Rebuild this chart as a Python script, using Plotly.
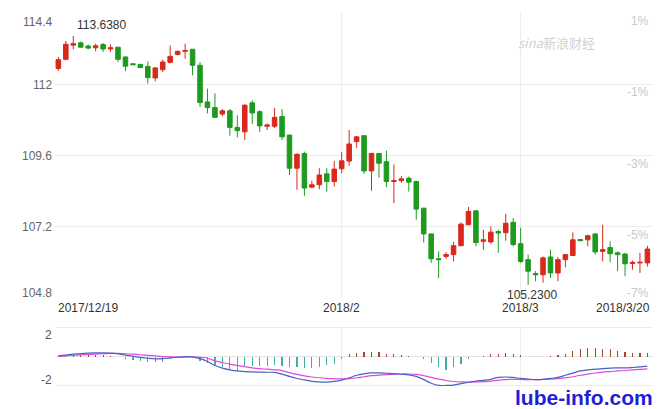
import plotly.graph_objects as go

# ---------------- data ----------------
opens = [112.54, 112.85, 113.33, 113.41, 113.30, 113.24, 113.35, 113.20, 113.26, 112.93,
         112.70, 112.68, 112.61, 112.22, 112.50, 112.75, 113.01, 113.12, 113.19, 112.65,
         111.41, 111.22, 111.00, 111.11, 110.55, 110.40, 111.38, 111.08, 110.59, 110.59,
         110.92, 110.29, 109.17, 109.67, 108.53, 108.61, 108.98, 108.72, 109.15, 109.41,
         110.07, 110.27, 109.08, 109.67, 109.39, 108.72, 108.75, 108.83, 108.72, 107.82,
         106.95, 106.11, 106.19, 106.25, 106.55, 107.26, 107.73, 106.70, 106.68, 107.03,
         106.99, 107.34, 106.62, 106.08, 105.61, 105.57, 106.17, 105.63, 106.08, 106.22,
         106.76, 106.75, 106.95, 106.36, 106.49, 106.31, 106.27, 105.95, 105.97, 105.97]
highs = [112.93, 113.47, 113.638, 113.45, 113.35, 113.38, 113.40, 113.36, 113.27, 112.95,
         112.71, 112.69, 112.78, 112.59, 112.84, 113.32, 113.15, 113.38, 113.20, 112.76,
         111.86, 111.70, 111.17, 111.17, 110.96, 111.33, 111.47, 111.13, 110.68, 111.21,
         111.17, 110.30, 109.67, 109.73, 108.75, 109.17, 109.17, 109.42, 109.71, 110.46,
         110.26, 110.28, 109.69, 109.68, 109.76, 109.30, 108.91, 108.89, 108.74, 107.83,
         106.96, 106.36, 106.33, 106.68, 107.34, 107.86, 107.74, 107.09, 107.20, 107.09,
         107.63, 107.49, 107.16, 106.25, 105.69, 106.19, 106.42, 106.17, 106.27, 107.00,
         106.77, 106.92, 106.96, 107.26, 106.70, 106.36, 106.31, 106.05, 106.31, 106.55]
lows = [112.46, 112.82, 113.19, 113.24, 113.19, 113.12, 113.10, 113.10, 112.76, 112.45,
        112.66, 112.56, 112.03, 112.11, 112.42, 112.71, 112.99, 112.87, 112.31, 111.24,
        111.02, 110.88, 110.93, 110.27, 110.21, 110.12, 110.66, 110.40, 110.46, 110.52,
        110.12, 108.94, 108.44, 108.24, 108.50, 108.46, 108.38, 108.55, 109.00, 109.25,
        109.86, 108.98, 108.41, 108.85, 108.53, 107.99, 108.68, 108.38, 107.43, 106.66,
        105.97, 105.46, 106.10, 106.02, 106.54, 107.24, 106.53, 106.42, 106.62, 106.31,
        106.72, 106.53, 105.97, 105.23, 105.35, 105.30, 105.46, 105.35, 105.82, 106.21,
        106.71, 106.53, 106.25, 106.02, 105.99, 105.69, 105.52, 105.74, 105.63, 105.85]
closes = [112.84, 113.36, 113.38, 113.26, 113.23, 113.31, 113.20, 113.24, 112.85, 112.62,
          112.67, 112.57, 112.23, 112.56, 112.76, 112.95, 113.12, 113.15, 112.65, 111.39,
          111.22, 110.89, 111.11, 110.55, 110.44, 111.30, 111.04, 110.60, 110.63, 110.89,
          110.23, 109.17, 109.64, 108.50, 108.61, 108.94, 108.72, 109.14, 109.42, 109.99,
          110.23, 109.08, 109.67, 109.34, 108.72, 108.75, 108.81, 108.70, 107.79, 106.95,
          106.11, 106.08, 106.25, 106.55, 107.28, 107.71, 106.66, 106.75, 107.01, 106.98,
          107.31, 106.59, 106.02, 105.69, 105.57, 106.14, 105.63, 106.08, 106.25, 106.75,
          106.72, 106.89, 106.34, 106.42, 106.28, 106.25, 105.94, 105.99, 105.99, 106.44]

dif = [0.05, 0.10, 0.16, 0.20, 0.23, 0.25, 0.25, 0.23, 0.18, 0.10,
       0.02, -0.06, -0.12, -0.16, -0.15, -0.10, -0.05, -0.01, -0.02, -0.15,
       -0.35, -0.62, -0.80, -0.92, -1.00, -1.04, -1.07, -1.08, -1.09, -1.10,
       -1.22, -1.38, -1.52, -1.62, -1.72, -1.76, -1.77, -1.72, -1.63, -1.48,
       -1.30, -1.20, -1.14, -1.13, -1.16, -1.19, -1.23, -1.27, -1.38, -1.60,
       -1.85, -2.00, -2.00, -1.98, -1.88, -1.78, -1.70, -1.65, -1.58, -1.45,
       -1.42, -1.45, -1.52, -1.56, -1.60, -1.58, -1.52, -1.45, -1.30, -1.15,
       -1.00, -0.93, -0.88, -0.84, -0.80, -0.79, -0.79, -0.76, -0.72, -0.66]
dea = [0.03, 0.05, 0.08, 0.11, 0.14, 0.17, 0.19, 0.21, 0.21, 0.19,
       0.16, 0.12, 0.08, 0.04, 0.00, -0.03, -0.04, -0.04, -0.03, -0.06,
       -0.12, -0.30, -0.42, -0.53, -0.62, -0.71, -0.79, -0.84, -0.88, -0.92,
       -0.98, -1.12, -1.24, -1.34, -1.42, -1.47, -1.52, -1.54, -1.55, -1.53,
       -1.47, -1.40, -1.33, -1.29, -1.25, -1.23, -1.21, -1.21, -1.24, -1.32,
       -1.45, -1.57, -1.66, -1.73, -1.76, -1.77, -1.76, -1.74, -1.71, -1.64,
       -1.60, -1.58, -1.59, -1.60, -1.61, -1.59, -1.57, -1.53, -1.47, -1.40,
       -1.30, -1.22, -1.14, -1.08, -1.04, -1.00, -0.97, -0.93, -0.89, -0.85]
hist = [0.04, 0.06, 0.08, 0.09, 0.10, 0.09, 0.08, 0.06,
        0.0,
        -0.2, -0.25, -0.3, -0.4, -0.4, -0.35,
        -0.15, -0.05, 0.02, -0.05,
        -0.3, -0.45, -0.6, -0.75, -0.9, -1.0,
        -0.7, -0.68, -0.68, -0.64, -0.6, -0.64, -0.75, -0.75, -0.8, -0.8, -0.75, -0.6, -0.5, -0.15,
        0.15, 0.27, 0.32, 0.34, 0.32, 0.16, 0.14, 0.1, 0.05, -0.05,
        -0.2, -0.45, -0.75, -0.9, -0.75, -0.5, -0.2, -0.05, 0.02,
        0.15, 0.2, 0.27, 0.2, 0.1, 0.0, -0.02, 0.0, 0.05,
        0.1, 0.2, 0.38, 0.55, 0.6, 0.6, 0.55, 0.5, 0.4, 0.3, 0.25, 0.22, 0.22]

price_ticks = [104.8, 107.2, 109.6, 112.0, 114.4]
price_tick_text = ["104.8", "107.2", "109.6", "112", "114.4"]
pct_tick_text = ["-7%", "-5%", "-3%", "-1%", "1%"]
macd_ticks = [-2, 2]
date_labels = ["2017/12/19", "2018/2", "2018/3", "2018/3/20"]
date_pos = [0, 38, 62, 79]
max_label = "113.6380"
min_label = "105.2300"

# ---------------- layout helpers (pixels) ----------------
W, Hh = 660, 409
def py(p):
    return 1 - p / Hh

x_idx = list(range(len(opens)))
RED = "#d9291c"
GREEN = "#1e9a1e"

fig = go.Figure()
fig.add_trace(go.Candlestick(
    x=x_idx, open=opens, high=highs, low=lows, close=closes,
    increasing=dict(line=dict(color=RED, width=1), fillcolor=RED),
    decreasing=dict(line=dict(color=GREEN, width=1), fillcolor=GREEN),
    whiskerwidth=0, xaxis="x", yaxis="y", showlegend=False, hoverinfo="skip"))

fig.add_trace(go.Bar(
    x=x_idx, y=hist, width=0.16,
    marker=dict(color=["#a8442e" if v >= 0 else "#3fb0a6" for v in hist], line=dict(width=0)),
    xaxis="x2", yaxis="y2", showlegend=False, hoverinfo="skip"))
fig.add_trace(go.Scatter(x=x_idx, y=dea, mode="lines", line=dict(color="#e04adb", width=1.2, shape="spline"),
                         xaxis="x2", yaxis="y2", showlegend=False, hoverinfo="skip"))
fig.add_trace(go.Scatter(x=x_idx, y=dif, mode="lines", line=dict(color="#4a63c2", width=1.2, shape="spline"),
                         xaxis="x2", yaxis="y2", showlegend=False, hoverinfo="skip"))

xl, xr = 55, 653
xrange_ = [-0.45, 79.75]
xdom = [xl / W, xr / W]
main_top, main_bot = 13, 298
macd_top, macd_bot = 327, 386

grid = "#ececec"
fig.update_layout(
    width=W, height=Hh, margin=dict(l=0, r=0, t=0, b=0),
    paper_bgcolor="white", plot_bgcolor="white",
    boxgap=0.22, boxgroupgap=0.22,
    bargap=0,
    xaxis=dict(domain=xdom, range=xrange_, tickvals=[38, 62], showticklabels=False,
               showgrid=True, gridcolor=grid, zeroline=False, showline=False,
               rangeslider=dict(visible=False), fixedrange=True),
    yaxis=dict(domain=[py(main_bot) - 0.001, py(main_top) + 0.001], range=[104.8 - 0.03, 114.4 + 0.03],
               tickvals=price_ticks, showticklabels=False, showgrid=True, gridcolor=grid,
               zeroline=False, showline=False),
    xaxis2=dict(domain=xdom, range=xrange_, tickvals=[38, 62], showticklabels=False,
                showgrid=True, gridcolor=grid, zeroline=False, anchor="y2"),
    yaxis2=dict(domain=[py(macd_bot) - 0.001, py(macd_top) + 0.001], range=[-2.07, 2.07],
                tickvals=macd_ticks, showticklabels=False, showgrid=True, gridcolor=grid,
                zeroline=True, zerolinecolor="#e4e4e4", zerolinewidth=1, anchor="x2"),
    font=dict(family="Arial, Liberation Sans, sans-serif", size=12, color="#555"),
)

ann = []
# left price labels
label_y = [293, 227, 156, 85, 22]
for t, yy in zip(price_tick_text, label_y):
    ann.append(dict(xref="paper", yref="paper", x=54 / W, y=py(yy), text=t, showarrow=False,
                    xanchor="right", yanchor="middle", font=dict(size=12, color="#666")))
# right percent labels (inside plot)
pct_y = [293, 235, 164, 92, 21]
for t, yy in zip(pct_tick_text, pct_y):
    ann.append(dict(xref="paper", yref="paper", x=651 / W, y=py(yy), text=t, showarrow=False,
                    xanchor="right", yanchor="middle", font=dict(size=12, color="#c8c8c8")))
# macd labels
for t, yy in zip(["2", "-2"], [335, 380]):
    ann.append(dict(xref="paper", yref="paper", x=54 / W, y=py(yy), text=t, showarrow=False,
                    xanchor="right", yanchor="middle", font=dict(size=12, color="#555")))
# date labels
anchors = ["left", "center", "center", "right"]
for t, p, a in zip(date_labels, date_pos, anchors):
    if a == "left":
        xx, xref = 56 / W, "paper"
    elif a == "right":
        xx, xref = 652 / W, "paper"
    else:
        xx, xref = p, "x"
    ann.append(dict(xref=xref, yref="paper", x=xx, y=py(308), text=t, showarrow=False,
                    xanchor=a, yanchor="middle", font=dict(size=12, color="#333")))
# max / min labels
ann.append(dict(xref="x", yref="y", x=2, y=highs[2], text=max_label, showarrow=False,
                xanchor="left", yanchor="bottom", xshift=2, yshift=2, font=dict(size=12, color="#333")))
ann.append(dict(xref="x", yref="y", x=63, y=lows[63], text=min_label, showarrow=False,
                xanchor="center", yanchor="top", xshift=4, yshift=-1, font=dict(size=12, color="#333")))
# sina watermark
ann.append(dict(xref="paper", yref="paper", x=556 / W, y=py(43), text="<i>sina</i>新浪财经", showarrow=False,
                xanchor="center", yanchor="middle",
                font=dict(size=13, color="#d2d2d2", family="Noto Sans CJK SC")))
# lube-info watermark
ann.append(dict(xref="paper", yref="paper", x=655 / W, y=py(397), text="<b>lube-info.com</b>", showarrow=False,
                xanchor="right", yanchor="middle",
                font=dict(size=21, color="#1f1fd8", family="Arial, Liberation Sans, sans-serif")))
fig.update_layout(annotations=ann)

fig.write_html("out.html", config={"displayModeBar": False, "staticPlot": True},
               post_script="document.body.style.margin='0';document.body.style.overflow='hidden';")
